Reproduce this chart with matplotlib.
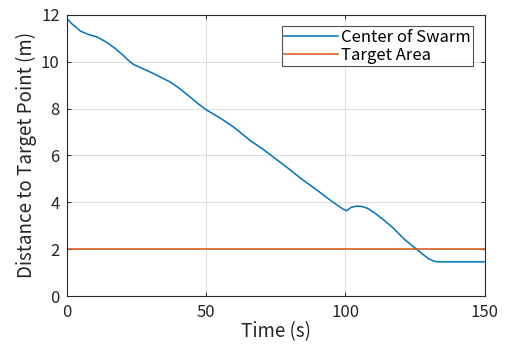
import matplotlib.pyplot as plt
import numpy as np

plt.rcParams['font.family'] = ['Noto Sans CJK JP', 'DejaVu Sans']

# distance of swarm center to target point
time_s = [0, 2, 5, 8, 11, 14, 17, 20, 22, 24, 27, 31, 34, 37, 40, 44, 47, 50,
          55, 60, 66, 70, 75, 80, 84, 90, 95, 99, 100.5, 102, 104, 106, 108,
          111, 114, 117, 121, 124, 126, 128, 130, 131.5, 133, 135, 140, 145, 150]
distance = [11.85, 11.6, 11.3, 11.15, 11.05, 10.85, 10.6, 10.3, 10.07, 9.88,
            9.72, 9.5, 9.32, 9.14, 8.9, 8.52, 8.22, 7.95, 7.6, 7.2, 6.62, 6.3,
            5.85, 5.4, 5.02, 4.5, 4.05, 3.72, 3.64, 3.78, 3.84, 3.82, 3.74,
            3.5, 3.22, 2.92, 2.44, 2.14, 1.96, 1.76, 1.58, 1.5, 1.46, 1.46,
            1.46, 1.46, 1.46]
target_x = [0, 150]
target_y = [2, 2]

fig = plt.figure(figsize=(5.05, 3.52), dpi=100)
ax = fig.add_axes([0.132, 0.159, 0.828, 0.799])

ax.plot(time_s, distance, color='#0072BD', lw=1.1, label='Center of Swarm')
ax.plot(target_x, target_y, color='#D95319', lw=1.1, label='Target Area')

ax.set_xlim(0, 150)
ax.set_ylim(0, 12)
ax.set_xticks([0, 50, 100, 150])
ax.set_yticks([0, 2, 4, 6, 8, 10, 12])
ax.grid(True, color='#dcdcdc', lw=0.7)
ax.tick_params(direction='in', top=True, right=True, labelsize=12,
               length=3, width=0.7, colors='#262626')
ax.tick_params(axis='x', pad=6)
ax.tick_params(axis='y', pad=5)
for s in ax.spines.values():
    s.set_linewidth(0.8)
    s.set_color('#262626')

ax.set_xlabel('Time (s)', fontsize=13.5, color='#262626', labelpad=0)
ax.set_ylabel('Distance to Target Point (m)', fontsize=13.5, color='#262626',
              labelpad=3)

leg = ax.legend(loc='upper right', fontsize=12, frameon=True, fancybox=False,
                edgecolor='#262626', borderpad=0.15, labelspacing=0.05,
                handlelength=3.2, handletextpad=0.2, borderaxespad=0.7)
leg.get_frame().set_linewidth(0.8)

fig.savefig('out.png', dpi=100)
